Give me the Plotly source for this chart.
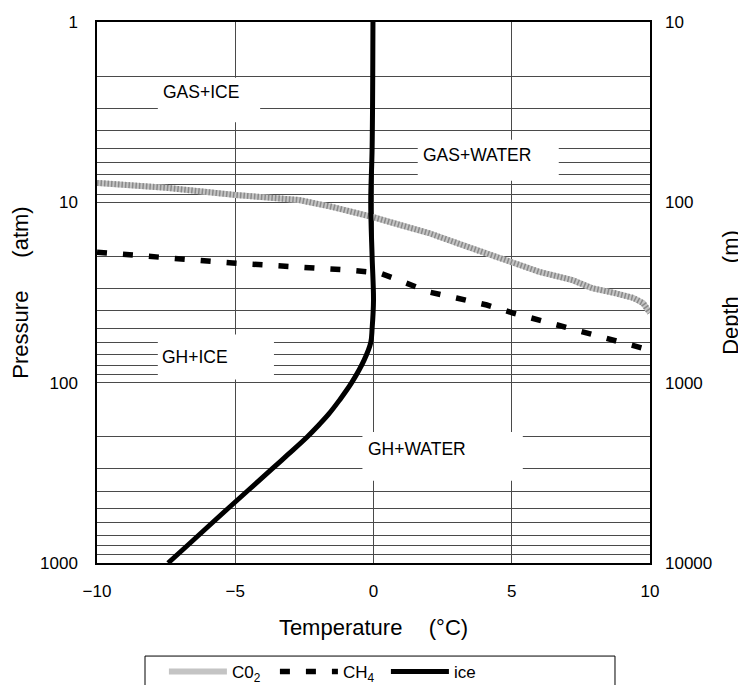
import math
import plotly.graph_objects as go

# ---------------- data ----------------
co2_T = [-10, -7.5, -5.0, -2.7, -1.5, -0.5, 0.0, 1.0, 2.0, 3.1, 5.0, 6.0, 7.2, 7.9, 8.7, 9.4, 9.75, 10.0]
co2_P = [7.8, 8.3, 9.1, 9.7, 10.6, 11.5, 12.1, 13.4, 14.8, 17.0, 21.7, 24.3, 27.0, 29.9, 31.8, 33.9, 36.2, 41.0]

ch4_T = [-10, -8.0, -5.1, -1.0, -0.3, 0.2, 0.8, 1.6, 2.0, 3.0, 4.1, 5.05, 6.1, 7.0, 8.1, 9.0, 10.0]
ch4_P = [18.9, 20.1, 21.7, 23.7, 24.3, 24.6, 26.6, 29.5, 31.4, 33.9, 37.1, 41.1, 45.5, 49.7, 55.1, 60.3, 66.0]

ice_T = [-0.02, -0.05, -0.1, -0.05, 0.0, -0.05, -0.1, -0.34, -0.79, -1.23, -1.63, -2.03, -2.4, -3.09, -3.66, -4.57, -5.84, -6.73, -7.43]
ice_P = [1, 5, 10, 20, 35, 50, 60, 75, 100, 125, 150, 175, 200, 250, 300, 400, 600, 800, 1000]

x_ticks = [-10, -5, 0, 5, 10]
p_ticks = [1, 10, 100, 1000]
depth_ticks = [10, 100, 1000, 10000]

region_labels = ["GAS+ICE", "GAS+WATER", "GH+ICE", "GH+WATER"]
region_T = [-6.24, 3.74, -6.46, 1.57]
region_P = [2.44, 5.46, 72.1, 233.0]
# white patches behind labels (T0, T1, P0, P1)
region_boxes = [(-7.8, -4.1, 2.04, 3.6), (1.6, 6.7, 4.5, 7.6), (-7.8, -3.6, 54, 96), (-0.4, 5.4, 188, 350)]

FONT = "Liberation Sans, Arial, sans-serif"
GRID = "#4a4a4a"

fig = go.Figure()

# CO2: textured grey band (base + darker hatch overlay)
fig.add_trace(go.Scatter(x=co2_T, y=co2_P, mode="lines", name="C0<sub>2</sub>",
                         line=dict(color="#c4c4c4", width=6), legendgroup="co2"))
fig.add_trace(go.Scatter(x=co2_T, y=co2_P, mode="lines", showlegend=False,
                         line=dict(color="#8a8a8a", width=6, dash="1.5px,2px"), legendgroup="co2"))
# CH4 dashed
fig.add_trace(go.Scatter(x=ch4_T, y=ch4_P, mode="lines", name="CH<sub>4</sub>",
                         line=dict(color="black", width=5.5, dash="10px,16px")))
# ice solid
fig.add_trace(go.Scatter(x=ice_T, y=ice_P, mode="lines", name="ice",
                         line=dict(color="black", width=5, shape="spline", smoothing=1.0)))
# depth axis companion (no visible marks)
fig.add_trace(go.Scatter(x=ice_T, y=[p * 10 for p in ice_P], mode="none", yaxis="y2",
                         showlegend=False, hoverinfo="skip"))

minor_vals = [k * 10 ** d for d in range(3) for k in range(2, 10)]

shapes = []
for (t0, t1, p0, p1) in region_boxes:
    shapes.append(dict(type="rect", xref="x", yref="y", x0=t0, x1=t1, y0=p0, y1=p1,
                       fillcolor="white", line=dict(width=0), layer="between"))
# legend frame
shapes.append(dict(type="rect", xref="paper", yref="paper", x0=0.0868, x1=0.9367,
                   y0=-0.172, y1=-0.32, line=dict(color="black", width=1),
                   fillcolor="rgba(0,0,0,0)", layer="above"))

annotations = []
for lab, t, p in zip(region_labels, region_T, region_P):
    annotations.append(dict(x=t, y=math.log10(p), xref="x", yref="y", text=lab,
                            showarrow=False, font=dict(family=FONT, size=17.5, color="black")))

fig.update_layout(
    width=746, height=685, autosize=False,
    margin=dict(l=89, r=104, t=14, b=130, autoexpand=False),
    paper_bgcolor="white", plot_bgcolor="white",
    font=dict(family=FONT, size=17, color="black"),
    xaxis=dict(range=[-10, 10], tickvals=x_ticks,
               ticktext=[("\u2212" + str(-v)) if v < 0 else str(v) for v in x_ticks],
               showgrid=True, gridcolor=GRID, gridwidth=1, zeroline=False,
               showline=True, linecolor="black", linewidth=1.5, mirror=True,
               ticks="", ticklabelstandoff=12, tickfont=dict(size=17), automargin=False,
               title=dict(text="Temperature\u2003\u2009(°C)", font=dict(size=22), standoff=19)),
    yaxis=dict(type="log", range=[3, 0], tickvals=p_ticks, ticktext=[str(v) for v in p_ticks],
               showgrid=True, gridcolor=GRID, gridwidth=1, zeroline=False,
               showline=True, linecolor="black", linewidth=1.5, mirror=True,
               minor=dict(tickvals=minor_vals, showgrid=True, gridcolor=GRID, gridwidth=1, ticks=""),
               ticks="", ticklabelstandoff=14, tickfont=dict(size=17), automargin=False,
               title=dict(text="Pressure\u2003\u2002(atm)", font=dict(size=22), standoff=5)),
    yaxis2=dict(type="log", range=[4, 1], overlaying="y", side="right",
                tickvals=depth_ticks, ticktext=[str(v) for v in depth_ticks],
                showgrid=False, zeroline=False, showline=False, ticks="",
                ticklabelstandoff=14, tickfont=dict(size=17), automargin=False,
                title=dict(text="Depth\u2003\u2002(m)", font=dict(size=22), standoff=11)),
    legend=dict(orientation="h", x=0.121, xanchor="left", y=-0.2015, yanchor="middle",
                itemwidth=58, entrywidth=38, entrywidthmode="pixels",
                font=dict(size=17), bgcolor="rgba(0,0,0,0)", borderwidth=0),
    shapes=shapes,
    annotations=annotations,
    showlegend=True,
)

fig.write_html("out.html")
